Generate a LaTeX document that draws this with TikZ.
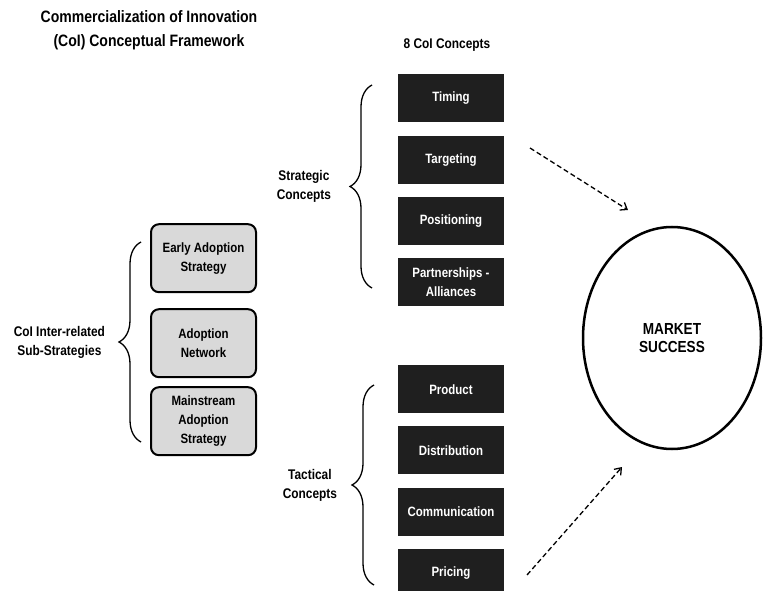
\documentclass[tikz,border=0pt]{standalone}
\usepackage{fontspec}
\setmainfont{Liberation Sans}[FakeStretch=0.85]
\usepackage{tikz}
\usetikzlibrary{matrix}
\usetikzlibrary{shapes.geometric}
\usetikzlibrary{decorations.pathreplacing}
\usetikzlibrary{arrows.meta}

\begin{document}
\begin{tikzpicture}[x=1pt,y=-1pt,>={Straight Barb[length=6pt,width=9pt]},
	concept/.style={fill=black!88,text=white,minimum width=106pt,minimum height=48pt,
		align=center,inner sep=2pt,font=\bfseries\fontsize{13.5}{15}\selectfont},
	substrategy/.style={draw,line width=2pt,rounded corners=8pt,fill=black!15,
		minimum width=105pt,minimum height=68pt,align=center,font=\bfseries\fontsize{13.5}{19}\selectfont},
	bracket/.style={decorate,decoration={brace,amplitude=22pt},line width=1.3pt},
	sidetext/.style={align=center,font=\bfseries\fontsize{14}{19}\selectfont},
	flow/.style={->,dash pattern=on 5pt off 3pt,line width=1.3pt}
	]
	\useasboundingbox (0,0) rectangle (764,591);

	\node (title) [align=center,font=\bfseries\fontsize{16.5}{24}\selectfont] at (149,30)
		{Commercialization of Innovation\\(CoI) Conceptual Framework};
	\node (head) [font=\bfseries\fontsize{14}{15}\selectfont] at (447,45) {8 CoI Concepts};

	% the eight concepts
	\matrix (concepts) [%
	inner sep=0pt,
	row sep=13pt,ampersand replacement=\&,
	anchor=north
	] at (451,74)
	{
		\node (timing) [concept] {Timing}; \\
		\node (targeting) [concept] {Targeting}; \\
		\node (positioning) [concept] {Positioning}; \\
		\node (partners) [concept] {Partnerships -\\[4pt]Alliances}; \\[46pt]
		\node (product) [concept] {Product}; \\
		\node (distribution) [concept] {Distribution}; \\
		\node (communication) [concept] {Communication}; \\
		\node (pricing) [concept] {Pricing}; \\
	};

	% the sub-strategies
	\matrix (substrat) [%
	inner sep=0pt,
	row sep=15pt,ampersand replacement=\&,
	anchor=north
	] at (203.5,223)
	{
		\node (early) [substrategy] {Early Adoption\\Strategy}; \\
		\node (network) [substrategy] {Adoption\\Network}; \\[-7pt]
		\node (mainstream) [substrategy] {Mainstream\\Adoption\\Strategy}; \\
	};

	\node (market) [draw,ellipse,line width=2.5pt,minimum width=178pt,minimum height=222pt,
		align=center,font=\bfseries\fontsize{16}{18}\selectfont] at (672,338) {MARKET\\SUCCESS};

	\draw[bracket] (141,442) -- (141,242)
		node [midway,left=32pt,sidetext] {CoI Inter-related\\Sub-Strategies};
	\draw[bracket] (372,288) -- (372,85)
		node [midway,left=37pt,sidetext] {Strategic\\Concepts};
	\draw[bracket] (374,585) -- (374,385)
		node [midway,left=33pt,sidetext] {Tactical\\Concepts};

	\coordinate (upfrom) at (530,148);
	\coordinate (upto) at (628,210);
	\coordinate (lowfrom) at (527,575);
	\coordinate (lowto) at (622,467);
	\draw[flow] (upfrom) -- (upto);
	\draw[flow] (lowfrom) -- (lowto);
\end{tikzpicture}
\end{document}
